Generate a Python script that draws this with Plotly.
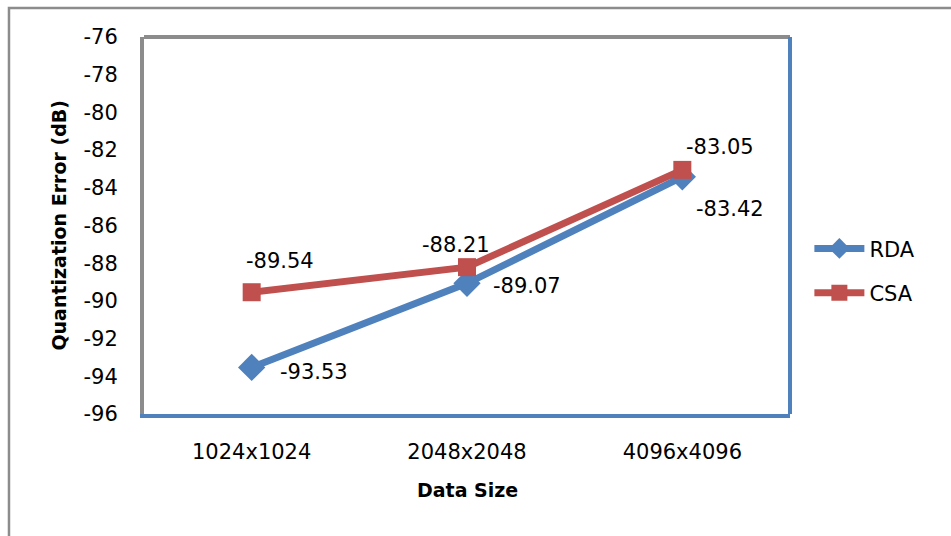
import plotly.graph_objects as go

categories = ["1024x1024", "2048x2048", "4096x4096"]
rda = [-93.53, -89.07, -83.42]
csa = [-89.54, -88.21, -83.05]
y_ticks = [-96, -94, -92, -90, -88, -86, -84, -82, -80, -78, -76]
y_tick_text = ["-96", "-94", "-92", "-90", "-88", "-86", "-84", "-82", "-80", "-78", "-76"]

BLUE = "#4F81BD"
RED = "#C0504D"
GRAY = "#8C8C8C"
FONT = "DejaVu Sans"
FS = 21

fig = go.Figure()
fig.add_trace(go.Scatter(x=categories, y=rda, name="RDA", mode="lines+markers",
                         line=dict(color=BLUE, width=7),
                         marker=dict(symbol="diamond", size=21, color=BLUE),
                         legendgroup="a"))
fig.add_trace(go.Scatter(x=categories, y=csa, name="CSA", mode="lines+markers",
                         line=dict(color=RED, width=7),
                         marker=dict(symbol="square", size=18, color=RED),
                         legendgroup="b"))

# data labels
rda_shift = [(62, -5), (60, -3), (48, -32)]
csa_shift = [(28, 31), (-11, 22), (38, 23)]
for c, v, (dx, dy) in zip(categories, rda, rda_shift):
    fig.add_annotation(x=c, y=v, text=f"{v:.2f}", showarrow=False, xshift=dx, yshift=dy,
                       font=dict(family=FONT, size=FS, color="black"))
for c, v, (dx, dy) in zip(categories, csa, csa_shift):
    fig.add_annotation(x=c, y=v, text=f"{v:.2f}", showarrow=False, xshift=dx, yshift=dy,
                       font=dict(family=FONT, size=FS, color="black"))

# axis titles
fig.add_annotation(xref="paper", yref="paper", x=-0.133, y=0.5, xanchor="center", yanchor="middle",
                   text="<b>Quantization Error (dB)</b>",
                   textangle=-90, showarrow=False, font=dict(family=FONT, size=19, color="black"))
fig.add_annotation(xref="paper", yref="paper", x=0.5, y=-0.2016, xanchor="center", yanchor="middle",
                   text="<b>Data Size</b>",
                   showarrow=False, font=dict(family=FONT, size=19, color="black"))

# plot area top (gray) and right (blue) borders
fig.add_shape(type="line", xref="paper", yref="paper", x0=0, x1=1, y0=1, y1=1,
              line=dict(color=GRAY, width=4))
fig.add_shape(type="line", xref="paper", yref="paper", x0=1, x1=1, y0=0, y1=1,
              line=dict(color=BLUE, width=4))
# outer chart border
fig.add_shape(type="rect", xref="paper", yref="paper", x0=-0.209, x1=1.4, y0=-0.6, y1=1.077,
              line=dict(color=GRAY, width=2.5), layer="below")

fig.update_layout(
    width=951, height=536,
    margin=dict(l=144, r=161, t=37, b=122),
    paper_bgcolor="white", plot_bgcolor="white",
    font=dict(family=FONT, size=FS, color="black"),
    showlegend=True,
    legend=dict(x=1.03, y=0.38, xanchor="left", yanchor="middle",
                font=dict(family=FONT, size=FS, color="black"),
                itemwidth=50,
                traceorder="grouped", tracegroupgap=14, bgcolor="rgba(0,0,0,0)"),
    xaxis=dict(type="category", range=[-0.5, 2.5], showgrid=False, zeroline=False,
               showline=True, linecolor=BLUE, linewidth=4, ticks="", ticklabelstandoff=16,
               tickfont=dict(family=FONT, size=FS)),
    yaxis=dict(range=[-96, -76], tickvals=y_ticks, ticktext=y_tick_text, showgrid=False,
               zeroline=False, showline=True, linecolor=GRAY, linewidth=4, ticks="",
               ticklabelstandoff=18, tickfont=dict(family=FONT, size=FS)),
)

fig.write_html("out.html")
